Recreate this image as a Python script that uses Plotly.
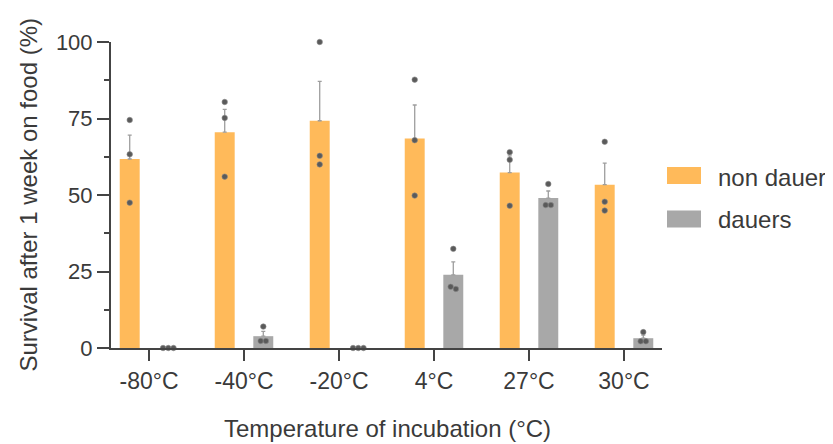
import numpy as np
import plotly.graph_objects as go

# ---- data ----
categories = ["-80°C", "-40°C", "-20°C", "4°C", "27°C", "30°C"]
non_dauer_reps = [
    [74.5, 63.3, 47.5],
    [80.4, 75.2, 56.0],
    [100.0, 62.8, 60.0],
    [87.7, 67.9, 49.8],
    [64.0, 61.5, 46.5],
    [67.4, 47.8, 44.9],
]
dauer_reps = [
    [0.0, 0.0, 0.0],
    [7.0, 2.3, 2.3],
    [0.0, 0.0, 0.0],
    [32.4, 20.0, 19.3],
    [53.6, 46.7, 46.7],
    [5.2, 2.2, 2.2],
]
y_ticks = [0, 25, 50, 75, 100]
series_names = ["non dauer", "dauers"]

# ---- style ----
ORANGE = "#FFBA5A"
GRAY = "#A8A8A8"
AX = "#444444"
TXT = "#3a3a3a"
FONT = "Liberation Sans, Arial, sans-serif"
BAR_W = 0.21
OFFS = [-0.203, 0.203]
SPREAD = 0.055

def mean_sem(reps):
    m = [float(np.mean(r)) for r in reps]
    s = [float(np.std(r, ddof=1) / np.sqrt(len(r))) for r in reps]
    return m, s

def swarm(reps, base_off):
    xs, ys = [], []
    for i, r in enumerate(reps):
        vals = sorted(r, reverse=True)
        clusters = []
        for v in vals:
            if clusters and abs(clusters[-1][-1] - v) < 1.5:
                clusters[-1].append(v)
            else:
                clusters.append([v])
        for c in clusters:
            n = len(c)
            for k, v in enumerate(c):
                xs.append(i + base_off + (k - (n - 1) / 2) * SPREAD)
                ys.append(v)
    return xs, ys

fig = go.Figure()
pos = np.arange(len(categories))
for reps, off, col, name in [(non_dauer_reps, OFFS[0], ORANGE, series_names[0]),
                             (dauer_reps, OFFS[1], GRAY, series_names[1])]:
    m, s = mean_sem(reps)
    fig.add_trace(go.Bar(
        x=pos + off, y=m, width=BAR_W, name=name, showlegend=False,
        marker=dict(color=col, line=dict(width=0)),
        error_y=dict(type="data", symmetric=False, array=s, arrayminus=[0] * len(s),
                     color="#9e9e9e", thickness=1.3, width=2),
    ))
for reps, off in [(non_dauer_reps, OFFS[0]), (dauer_reps, OFFS[1])]:
    xs, ys = swarm(reps, off)
    fig.add_trace(go.Scatter(
        x=xs, y=ys, mode="markers", showlegend=False, cliponaxis=False,
        marker=dict(size=5.5, color="#5a5a5a", line=dict(width=0.6, color="#8a8a8a")),
    ))

PAGE = 8  # default body margin of the html page
W, H = 833 - PAGE, 444 - PAGE
L, R, T, B = 111 - PAGE, 171, 42 - PAGE, 96
pw, ph = W - L - R, H - T - B

def px_x(x):
    return (x - PAGE - L) / pw

def px_y(y):
    return (PAGE + T + ph - y) / ph

annotations = [
    dict(text="Survival after 1 week on food (%)", textangle=-90, x=px_x(28), y=px_y(194.5),
         xref="paper", yref="paper", showarrow=False, xanchor="center", yanchor="middle",
         font=dict(size=24, color=TXT, family=FONT)),
    dict(text="Temperature of incubation (°C)", x=px_x(387.5), y=px_y(428),
         xref="paper", yref="paper", showarrow=False, xanchor="center", yanchor="middle",
         font=dict(size=24, color=TXT, family=FONT)),
]
shapes = []
legend_rows = [(ORANGE, 167, 184, 177), (GRAY, 210.5, 227.5, 220)]
for (col, y0, y1, ty), name in zip(legend_rows, series_names):
    shapes.append(dict(type="rect", xref="paper", yref="paper", x0=px_x(667), x1=px_x(701),
                       y0=px_y(y1), y1=px_y(y0), fillcolor=col, line=dict(width=0)))
    annotations.append(dict(text=name, x=px_x(716), y=px_y(ty), xref="paper", yref="paper",
                            showarrow=False, xanchor="left", yanchor="middle",
                            font=dict(size=24, color=TXT, family=FONT)))

fig.update_layout(
    width=W, height=H, margin=dict(l=L, r=R, t=T, b=B, pad=0),
    paper_bgcolor="white", plot_bgcolor="white", barmode="overlay",
    font=dict(family=FONT, color=TXT),
    annotations=annotations, shapes=shapes,
    xaxis=dict(range=[-0.4, 5.4], tickmode="array", tickvals=list(pos), ticktext=categories,
               showgrid=False, zeroline=False, showline=True, linecolor=AX, linewidth=2,
               ticks="outside", ticklen=11, tickwidth=2, tickcolor=AX,
               tickfont=dict(size=23, color=TXT, family=FONT)),
    yaxis=dict(range=[0, 100], tickmode="array", tickvals=y_ticks,
               showgrid=False, zeroline=False, showline=True, linecolor=AX, linewidth=2,
               ticks="outside", ticklen=12, tickwidth=2, tickcolor=AX,
               tickfont=dict(size=22, color=TXT, family=FONT),
               minor=dict(dtick=12.5, tick0=0, ticks="outside", ticklen=5, tickwidth=2, tickcolor=AX)),
)
fig.write_html("out.html")
